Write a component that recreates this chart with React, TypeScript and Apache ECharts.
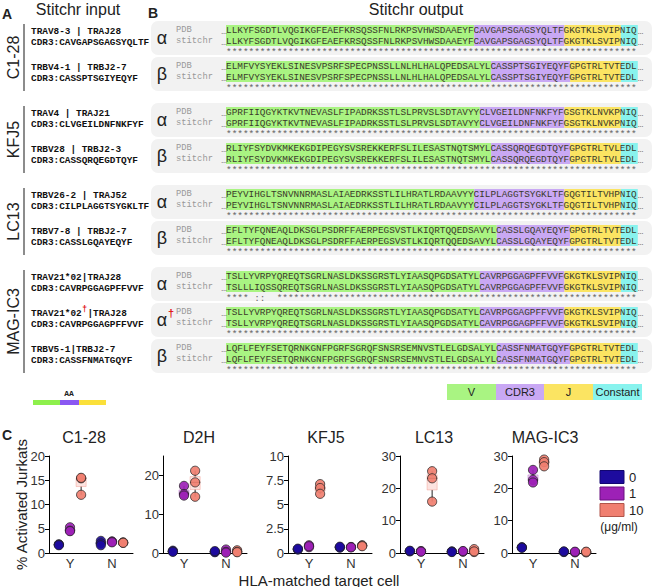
import { useEffect, useRef } from 'react';
import * as echarts from 'echarts';

const SANS = 'Liberation Sans';
const MONO = 'Liberation Mono';

// ---------------- Panel A / B data ----------------
const GROUP_NAMES = ['C1-28', 'KFJ5', 'LC13', 'MAG-IC3'];
const CHAIN_GROUP = [0, 0, 1, 1, 2, 2, 3, 3, 3];
const CHAIN_SYMBOLS = ['α', 'β', 'α', 'β', 'α', 'β', 'α', 'α', 'β'];
const CHAIN_DAGGER = [false, false, false, false, false, false, false, true, false];
const GENE_V = ['TRAV8-3', 'TRBV4-1', 'TRAV4', 'TRBV28', 'TRBV26-2', 'TRBV7-8', 'TRAV21*02', 'TRAV21*02', 'TRBV5-1'];
const GENE_J = ['TRAJ28', 'TRBJ2-7', 'TRAJ21', 'TRBJ2-3', 'TRAJ52', 'TRBJ2-7', 'TRAJ28', 'TRAJ28', 'TRBJ2-7'];
const GENE_SEP = [' | ', ' | ', ' | ', ' | ', ' | ', ' | ', '|', '|', '|'];
const CDR3_LINES = [
  'CDR3:CAVGAPSGAGSYQLTF', 'CDR3:CASSPTSGIYEQYF',
  'CDR3:CLVGEILDNFNKFYF', 'CDR3:CASSQRQEGDTQYF',
  'CDR3:CILPLAGGTSYGKLTF', 'CDR3:CASSLGQAYEQYF',
  'CDR3:CAVRPGGAGPFFVVF', 'CDR3:CAVRPGGAGPFFVVF', 'CDR3:CASSFNMATGQYF',
];
const V_SEGS = [
  'LLKYFSGDTLVQGIKGFEAEFKRSQSSFNLRKPSVHWSDAAEYF',
  'ELMFVYSYEKLSINESVPSRFSPECPNSSLLNLHLHALQPEDSALYL',
  'GPRFIIQGYKTKVTNEVASLFIPADRKSSTLSLPRVSLSDTAVYY',
  'RLIYFSYDVKMKEKGDIPEGYSVSREKKERFSLILESASTNQTSMYL',
  'PEYVIHGLTSNVNNRMASLAIAEDRKSSTLILHRATLRDAAVYY',
  'EFLTYFQNEAQLDKSGLPSDRFFAERPEGSVSTLKIQRTQQEDSAVYL',
  'TSLLYVRPYQREQTSGRLNASLDKSSGRSTLYIAASQPGDSATYL',
  'TSLLYVRPYQREQTSGRLNASLDKSSGRSTLYIAASQPGDSATYL',
  'LQFLFEYFSETQRNKGNFPGRFSGRQFSNSRSEMNVSTLELGDSALYL',
];
const STITCHR_V_SEGS = [
  V_SEGS[0], V_SEGS[1], V_SEGS[2], V_SEGS[3], V_SEGS[4], V_SEGS[5],
  'TSLLLIQSSQREQTSGRLNASLDKSSGRSTLYIAASQPGDSATYL',
  V_SEGS[7], V_SEGS[8],
];
const CDR3_SEGS = [
  'CAVGAPSGAGSYQLTF', 'CASSPTSGIYEQYF', 'CLVGEILDNFNKFYF', 'CASSQRQEGDTQYF',
  'CILPLAGGTSYGKLTF', 'CASSLGQAYEQYF', 'CAVRPGGAGPFFVVF', 'CAVRPGGAGPFFVVF', 'CASSFNMATGQYF',
];
const J_SEGS = [
  'GKGTKLSVIP', 'GPGTRLTVT', 'GSGTKLNVKP', 'GPGTRLTVL', 'GQGTILTVHP',
  'GPGTRLTVT', 'GKGTKLSVIP', 'GKGTKLSVIP', 'GPGTRLTVT',
];
const C_SEGS = ['NIQ', 'EDL', 'NIQ', 'EDL', 'NIQ', 'EDL', 'NIQ', 'NIQ', 'EDL'];
const MATCH_HEADS = ['', '', '', '', '', '', '**** ::  ', '', ''];
const SEG_LABELS = ['V', 'CDR3', 'J', 'Constant'];

// ---------------- Panel C data ----------------
const PANEL_NAMES = ['C1-28', 'D2H', 'KFJ5', 'LC13', 'MAG-IC3'];
const TARGETS = ['Y', 'N'];
const DOSES = ['0', '1', '10'];
// [dose0, dose1, dose10] replicate values, % activated
const C128_Y = [[1.8, 1.7, 1.6], [5.3, 4.6, 4.5], [15.4, 15.5, 12.0]];
const C128_N = [[2.5, 2.0, 1.6], [2.4, 2.3, 2.2], [2.2, 2.1, 2.1]];
const D2H_Y = [[0.6, 0.4, 0.3], [17.3, 15.2, 14.8], [21.2, 18.2, 14.5]];
const D2H_N = [[0.3, 0.2, 0.5], [0.9, 0.3, 0.1], [0.7, 0.3, 0.2]];
const KFJ5_Y = [[0.4, 0.35, 0.45], [0.8, 0.6, 0.7], [7.1, 6.7, 6.1]];
const KFJ5_N = [[0.6, 0.55, 0.65], [0.6, 0.62, 0.58], [0.8, 0.75, 0.7]];
const LC13_Y = [[0.6, 0.5, 0.7], [0.5, 0.6, 0.4], [25.3, 23.1, 15.9]];
const LC13_N = [[0.4, 0.5, 0.3], [0.5, 0.4, 0.6], [1.2, 0.3, 0.5]];
const MAG_Y = [[1.7, 1.8, 1.6], [25.7, 22.6, 21.8], [28.9, 28.1, 26.8]];
const MAG_N = [[0.4, 0.3, 0.5], [0.2, 0.3, 0.4], [0.3, 0.2, 0.4]];
const PANEL_DATA = [
  [C128_Y, C128_N], [D2H_Y, D2H_N], [KFJ5_Y, KFJ5_N], [LC13_Y, LC13_N], [MAG_Y, MAG_N],
];
const Y_MAX = [20, 25, 10, 30, 30];
const Y_INTERVAL = [5, 10, 2.5, 10, 10];

// ---------------- layout / style ----------------
const FS = 9.4;
const CW = FS * 0.6001;
const SEQ_X = 226;
const A_X = 31;
const BOX_TOPS = [21, 57, 103, 139, 185, 221, 267, 303, 339];
const BOX_H = 34;
const BAND_COLORS = ['#a9f482', '#c9a8f4', '#fbe462', '#88f3ee'];
const DOSE_COLORS = ['#1d0b9e', '#9d21b6', '#f07f70'];
const DOSE_BORDERS = ['#120670', '#6a1280', '#b0554a'];
const BOX_FILL = ['rgba(29,11,158,0.18)', 'rgba(157,33,182,0.2)', 'rgba(240,127,112,0.22)'];
const BOX_STROKE = ['rgba(29,11,158,0.3)', 'rgba(157,33,182,0.3)', 'rgba(240,127,112,0.35)'];
const GRID_LEFT = [49, 163, 288, 400, 512];
const GRID_W = 84;
const GRID_TOP = 456;
const GRID_H = 97;
const TITLE_Y = 437;
const TITLE_X = [84, 199, 326, 434, 545];
const DODGE = [-0.265, 0, 0.265];
const BOX_W = 0.24;

function txt(x: number, y: number, text: string, o: any = {}) {
  const align = o.align || 'left';
  const st: any = {
    text, fontFamily: SANS, fontSize: 12, fill: '#222',
    align, textAlign: align, verticalAlign: 'middle', textVerticalAlign: 'middle',
    ...o.style,
  };
  return { type: 'text', x, y, rotation: o.rotation || 0, silent: true, z: o.z || 10, style: st };
}

function quantile(sorted: number[], p: number) {
  const h = (sorted.length - 1) * p;
  const lo = Math.floor(h);
  const hi = Math.ceil(h);
  return sorted[lo] + (sorted[hi] - sorted[lo]) * (h - lo);
}

function buildGraphics() {
  const g: any[] = [];
  // headers
  g.push(txt(7, 14, 'A', { align: 'center', style: { fontSize: 14, fontWeight: 'bold' } }));
  g.push(txt(153, 13, 'B', { align: 'center', style: { fontSize: 14, fontWeight: 'bold' } }));
  g.push(txt(78, 9, 'Stitchr input', { align: 'center', style: { fontSize: 16 } }));
  g.push(txt(416, 9, 'Stitchr output', { align: 'center', style: { fontSize: 16 } }));

  // group labels + lines in A
  GROUP_NAMES.forEach((name, gi) => {
    const idx = CHAIN_GROUP.map((v, i) => (v === gi ? i : -1)).filter((i) => i >= 0);
    const y1 = BOX_TOPS[idx[0]] + 3;
    const y2 = BOX_TOPS[idx[idx.length - 1]] + BOX_H;
    g.push({ type: 'line', silent: true, shape: { x1: 24, y1, x2: 24, y2 }, style: { stroke: '#666', lineWidth: 1.5 } });
    g.push(txt(13, (y1 + y2) / 2, name, { align: 'center', rotation: Math.PI / 2, style: { fontSize: 16 } }));
  });

  const boldMono = { fontFamily: MONO, fontSize: FS, fontWeight: 'bold', fill: '#111' };
  CHAIN_SYMBOLS.forEach((sym, r) => {
    const T = BOX_TOPS[r];
    // panel A text
    const gap = CHAIN_DAGGER[r] ? 1 : 0;
    g.push(txt(A_X, T + 10, GENE_V[r], { style: boldMono }));
    g.push(txt(A_X + (GENE_V[r].length + gap) * CW, T + 10, GENE_SEP[r] + GENE_J[r], { style: boldMono }));
    g.push(txt(A_X, T + 21, CDR3_LINES[r], { style: boldMono }));
    if (CHAIN_DAGGER[r]) {
      g.push(txt(A_X + GENE_V[r].length * CW + CW / 2, T + 6, '†', { align: 'center', style: { fontSize: 8.5, fontWeight: 'bold', fill: '#e01010' } }));
    }
    // panel B
    g.push({ type: 'rect', silent: true, z: 1, shape: { x: 151, y: T, width: 501, height: BOX_H, r: 7 }, style: { fill: '#f2f2f2' } });
    g.push(txt(162, T + 17, sym, { align: 'center', style: { fontSize: 18, fill: '#222' } }));
    if (CHAIN_DAGGER[r]) {
      g.push(txt(171, T + 10, '†', { align: 'center', style: { fontSize: 11, fontWeight: 'bold', fill: '#e01010' } }));
    }
    g.push(txt(176, T + 9, 'PDB', { style: { fontFamily: MONO, fontSize: FS - 0.6, fill: '#999' } }));
    g.push(txt(176, T + 20, 'stitchr', { style: { fontFamily: MONO, fontSize: FS - 0.6, fill: '#999' } }));
    const segs = [V_SEGS[r], CDR3_SEGS[r], J_SEGS[r], C_SEGS[r]];
    let x = SEQ_X;
    segs.forEach((s, k) => {
      g.push({ type: 'rect', silent: true, z: 2, shape: { x, y: T + 4, width: s.length * CW, height: 21 }, style: { fill: BAND_COLORS[k] } });
      x += s.length * CW;
    });
    const pdb = segs.join('');
    const sti = [STITCHR_V_SEGS[r], CDR3_SEGS[r], J_SEGS[r], C_SEGS[r]].join('');
    const seqStyle = { fontFamily: MONO, fontSize: FS, fill: '#3a3a2a' };
    g.push(txt(SEQ_X, T + 9, pdb, { style: seqStyle }));
    g.push(txt(SEQ_X, T + 20, sti, { style: seqStyle }));
    g.push(txt(SEQ_X - CW + 1, T + 10, '…', { style: { ...seqStyle, fill: '#777' } }));
    g.push(txt(SEQ_X - CW + 1, T + 21, '…', { style: { ...seqStyle, fill: '#777' } }));
    g.push(txt(x, T + 10, '…', { style: { ...seqStyle, fill: '#777' } }));
    g.push(txt(x, T + 21, '…', { style: { ...seqStyle, fill: '#777' } }));
    const head = MATCH_HEADS[r];
    const match = head + '*'.repeat(pdb.length - head.length);
    g.push(txt(SEQ_X, T + 31.5, match, { style: { fontFamily: MONO, fontSize: FS, fill: '#666' } }));
  });

  // legend B
  const LX = [447, 496, 544, 593, 642];
  SEG_LABELS.forEach((lab, k) => {
    g.push({ type: 'rect', silent: true, z: 2, shape: { x: LX[k], y: 384, width: LX[k + 1] - LX[k], height: 16 }, style: { fill: BAND_COLORS[k] } });
    g.push(txt((LX[k] + LX[k + 1]) / 2, 392, lab, { align: 'center', style: { fontSize: 11, fill: '#222' } }));
  });

  // legend A bar
  g.push(txt(69, 393, 'AA', { align: 'center', style: { fontFamily: MONO, fontSize: 8, fontWeight: 'bold', fill: '#222' } }));
  g.push({ type: 'rect', silent: true, shape: { x: 33, y: 400, width: 27, height: 5 }, style: { fill: '#8ef04c' } });
  g.push({ type: 'rect', silent: true, shape: { x: 60, y: 400, width: 19, height: 5 }, style: { fill: '#8a58f2' } });
  g.push({ type: 'rect', silent: true, shape: { x: 79, y: 400, width: 27, height: 5 }, style: { fill: '#fbe03a' } });

  // panel C labels
  g.push(txt(7, TITLE_Y - 2, 'C', { align: 'center', style: { fontSize: 14, fontWeight: 'bold' } }));
  PANEL_NAMES.forEach((name, i) => {
    g.push(txt(TITLE_X[i], TITLE_Y, name, { align: 'center', style: { fontSize: 16, fill: '#222' } }));
  });
  g.push(txt(21, GRID_TOP + GRID_H / 2, '% Activated Jurkats', { align: 'center', rotation: Math.PI / 2, style: { fontSize: 15, fill: '#222' } }));
  g.push(txt(319, 580, 'HLA-matched target cell', { align: 'center', style: { fontSize: 15, fill: '#222' } }));

  // dose legend
  DOSES.forEach((dose, d) => {
    const cy = 477 + d * 16.5;
    g.push({ type: 'rect', silent: true, shape: { x: 600, y: cy - 6.5, width: 24, height: 13 }, style: { fill: DOSE_COLORS[d], stroke: DOSE_BORDERS[d], lineWidth: 1 } });
    g.push(txt(629, cy, dose, { style: { fontSize: 13, fill: '#222' } }));
  });
  g.push(txt(619, 527, '(μg/ml)', { align: 'center', style: { fontSize: 12, fill: '#222' } }));
  return g;
}

function buildOption() {
  const xAxis: any[] = [];
  const yAxis: any[] = [];
  const grid: any[] = [];
  const series: any[] = [];
  PANEL_NAMES.forEach((_, i) => {
    grid.push({ left: GRID_LEFT[i], top: GRID_TOP, width: GRID_W, height: GRID_H, containLabel: false });
    xAxis.push({
      type: 'category', gridIndex: i, data: TARGETS, position: 'bottom',
      axisLine: { onZero: false, lineStyle: { color: '#000', width: 1 } },
      axisTick: { alignWithLabel: true, length: 4, lineStyle: { color: '#000' } },
      axisLabel: { color: '#333', fontSize: 13, fontFamily: SANS, margin: 4 },
      splitLine: { show: false },
    });
    yAxis.push({
      type: 'value', gridIndex: i, min: 0, max: Y_MAX[i], interval: Y_INTERVAL[i], position: 'left',
      axisLine: { show: true, onZero: false, lineStyle: { color: '#000', width: 1 } },
      axisTick: { show: true, length: 4, lineStyle: { color: '#000' } },
      splitLine: { show: false },
      axisLabel: {
        show: true, color: '#333', fontSize: 13, fontFamily: SANS, margin: 4,
        showMinLabel: true, showMaxLabel: Y_MAX[i] % Y_INTERVAL[i] === 0,
        formatter: (v: number) => (Y_INTERVAL[i] < 1 ? Number(v).toFixed(1) : String(v)),
      },
    });

    DOSES.forEach((dose, d) => {
      const boxData: any[] = [];
      const ptData: any[] = [];
      TARGETS.forEach((_, t) => {
        const vals = PANEL_DATA[i][t][d];
        const s = [...vals].sort((a, b) => a - b);
        boxData.push([t, s[0], quantile(s, 0.25), quantile(s, 0.5), quantile(s, 0.75), s[s.length - 1]]);
        vals.forEach((v) => ptData.push([t, v]));
      });
      series.push({
        type: 'custom', name: 'box ' + dose, xAxisIndex: i, yAxisIndex: i, z: 2, silent: true,
        data: boxData,
        encode: { x: 0, y: [1, 5] },
        renderItem: (params: any, api: any) => {
          const cat = api.value(0);
          const bw = api.size([1, 0])[0];
          const c = (v: number) => api.coord([cat, v]);
          const [cx0, yMin] = c(api.value(1));
          const cx = cx0 + DODGE[d] * bw;
          const yQ1 = c(api.value(2))[1];
          const yMed = c(api.value(3))[1];
          const yQ3 = c(api.value(4))[1];
          const yMax = c(api.value(5))[1];
          const hw = (BOX_W * bw) / 2;
          return {
            type: 'group',
            children: [
              { type: 'line', shape: { x1: cx, y1: yQ3, x2: cx, y2: yMax }, style: { stroke: '#222', lineWidth: 1 } },
              { type: 'line', shape: { x1: cx, y1: yQ1, x2: cx, y2: yMin }, style: { stroke: '#222', lineWidth: 1 } },
              { type: 'rect', shape: { x: cx - hw, y: yQ3, width: hw * 2, height: Math.max(yQ1 - yQ3, 0) }, style: { fill: BOX_FILL[d], stroke: BOX_STROKE[d], lineWidth: 1 } },
              { type: 'line', shape: { x1: cx - hw, y1: yMed, x2: cx + hw, y2: yMed }, style: { stroke: '#333', lineWidth: 1.2 } },
            ],
          };
        },
      });
      series.push({
        type: 'custom', name: dose, xAxisIndex: i, yAxisIndex: i, z: 3, silent: true,
        data: ptData,
        encode: { x: 0, y: 1 },
        renderItem: (params: any, api: any) => {
          const bw = api.size([1, 0])[0];
          const p = api.coord([api.value(0), api.value(1)]);
          return {
            type: 'circle',
            shape: { cx: p[0] + DODGE[d] * bw, cy: p[1], r: 4.6 },
            style: { fill: DOSE_COLORS[d], stroke: '#222', lineWidth: 0.8, opacity: 0.92 },
          };
        },
      });
    });
  });

  return {
    animation: false,
    backgroundColor: '#fff',
    textStyle: { fontFamily: SANS },
    grid, xAxis, yAxis, series,
    graphic: { elements: buildGraphics() },
  };
}

export default function App() {
  const ref = useRef<HTMLDivElement>(null);
  useEffect(() => {
    document.body.style.margin = '0';
    if (!ref.current) return;
    const chart = echarts.init(ref.current, undefined, { renderer: 'svg' });
    chart.setOption(buildOption() as any);
    return () => chart.dispose();
  }, []);
  return <div ref={ref} style={{ width: 658, height: 587 }} />;
}
